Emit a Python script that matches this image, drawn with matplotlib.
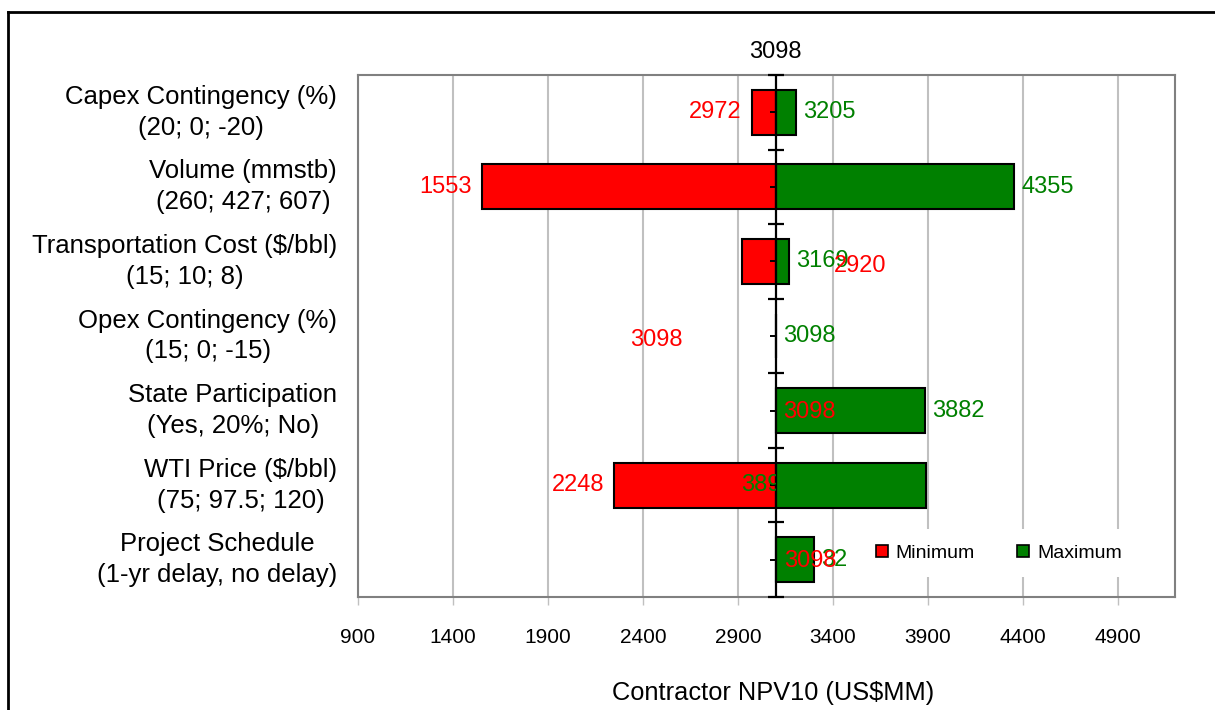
import matplotlib
matplotlib.use("Agg")
import matplotlib.pyplot as plt
from matplotlib.lines import Line2D
from matplotlib.transforms import Bbox

plt.rcParams['font.family'] = ['Liberation Sans', 'DejaVu Sans']

# Sensitivity inputs (top to bottom) and resulting NPV10 values
categories = [
    "Capex Contingency (%)\n(20; 0; -20)",
    "Volume (mmstb)\n(260; 427; 607)",
    "Transportation Cost ($/bbl)\n(15; 10; 8)",
    "Opex Contingency (%)\n(15; 0; -15)",
    "State Participation\n(Yes, 20%; No)",
    "WTI Price ($/bbl)\n(75; 97.5; 120)",
    "Project Schedule\n(1-yr delay, no delay)",
]
base_npv = 3098
min_npv = [2972, 1553, 2920, 3098, 3098, 2248, 3098]
max_npv = [3205, 4355, 3169, 3098, 3882, 3890, 3300]
max_label_text = ["3205", "4355", "3169", "3098", "3882", "3890", "32"]
x_ticks = [900, 1400, 1900, 2400, 2900, 3400, 3900, 4400, 4900]

RED = "#FF0000"
GREEN = "#008000"

W, H = 1215, 710
fig = plt.figure(figsize=(W / 100, H / 100), dpi=100)
ax = fig.add_axes([358 / W, 1 - 597 / H, (1175 - 358) / W, (597 - 75) / H])

n = len(categories)
ys = list(range(n))
bar_h = 0.6

# Bars from the base case outwards
ax.barh(ys, [m - base_npv for m in min_npv], left=base_npv, height=bar_h,
        color=RED, edgecolor="black", linewidth=1.5, zorder=3)
ax.barh(ys, [m - base_npv for m in max_npv], left=base_npv, height=bar_h,
        color=GREEN, edgecolor="black", linewidth=1.5, zorder=3)

ax.set_xlim(900, 5200)
ax.set_ylim(n - 0.5, -0.5)
ax.set_xticks(x_ticks)
ax.set_xticklabels([str(t) for t in x_ticks], fontsize=15)
ax.set_yticks(ys)
ax.set_yticklabels(categories, fontsize=18.5, ha="right", va="center",
                   multialignment="center", linespacing=1.36)
ax.tick_params(axis="y", length=0, pad=15)
ax.tick_params(axis="x", length=6, width=1, color="#c0c0c0", pad=16)
ax.grid(axis="x", color="#c0c0c0", linewidth=1.5, zorder=0)
for s in ax.spines.values():
    s.set_color("#808080")
    s.set_linewidth(1.5)

# Central category axis through the base case
ax.axvline(base_npv, color="black", linewidth=1.6, zorder=5)
bounds = [i - 0.5 for i in range(n + 1)]
ax.plot([base_npv] * len(bounds), bounds, linestyle="none", marker="_",
        markersize=12, markeredgewidth=1.6, color="black", zorder=5, clip_on=False)
ax.plot([base_npv] * n, ys, linestyle="none", marker=0,
        markersize=4, markeredgewidth=1.4, color="black", zorder=5)

ax.annotate(str(base_npv), xy=(base_npv, 1.0), xycoords=("data", "axes fraction"),
            xytext=(0, 23), textcoords="offset pixels", ha="center", va="center",
            fontsize=17, color="black")

# Data labels
lab_kw = dict(textcoords="offset pixels", fontsize=17, va="center", zorder=6,
              annotation_clip=False)
special_min = {
    2: dict(x=3402, ha="left", dy=-5),
    3: dict(x=2608, ha="right", dy=-4),
    4: dict(x=base_npv, ha="left", dx=7, dy=-1),
    6: dict(x=base_npv, ha="left", dx=8, dy=-1),
}
special_max = {
    5: dict(x=2918, ha="left", dy=0, clip_right=base_npv),
}

# Max labels first so the min labels sit on top where they overlap
for i, (v, txt) in enumerate(zip(max_npv, max_label_text)):
    sp = special_max.get(i)
    if sp is None:
        ax.annotate(txt, xy=(v, i), xytext=(7, 0), ha="left", color=GREEN, **lab_kw)
    else:
        t = ax.annotate(txt, xy=(sp["x"], i), xytext=(sp.get("dx", 0), sp["dy"]),
                        ha=sp["ha"], color=GREEN, **lab_kw)
        if "clip_right" in sp:
            fig.canvas.draw()
            x1 = ax.transData.transform((sp["clip_right"], 0))[0]
            t.set_clip_box(Bbox([[0, 0], [x1, H]]))
            t.set_clip_on(True)

for i, v in enumerate(min_npv):
    sp = special_min.get(i)
    if sp is None:
        ax.annotate(str(v), xy=(v, i), xytext=(-10, 0), ha="right", color=RED, **lab_kw)
    else:
        ax.annotate(str(v), xy=(sp["x"], i), xytext=(sp.get("dx", 0), sp["dy"]),
                    ha=sp["ha"], color=RED, **lab_kw)

# Legend
handles = [
    Line2D([], [], linestyle="none", marker="s", markersize=8, markerfacecolor=RED,
           markeredgecolor="black", markeredgewidth=1.2, label="Minimum"),
    Line2D([], [], linestyle="none", marker="s", markersize=8, markerfacecolor=GREEN,
           markeredgecolor="black", markeredgewidth=1.2, label="Maximum"),
]
leg = ax.legend(handles=handles, loc="center", bbox_to_anchor=(998 / W, 1 - 553 / H),
                bbox_transform=fig.transFigure, ncol=2, frameon=True, fontsize=14,
                handlelength=0.8, handletextpad=0.3, columnspacing=2.1,
                borderpad=0.8, fancybox=False)
leg.get_frame().set_facecolor("white")
leg.get_frame().set_edgecolor("none")
leg.get_frame().set_alpha(1)
leg.set_zorder(4)

fig.text(773 / W, 1 - 693 / H, "Contractor NPV10 (US$MM)", ha="center", va="center",
         fontsize=18.3)

# Outer chart border (top and left edges)
fig.add_artist(Line2D([8 / W, 1], [1 - 12 / H, 1 - 12 / H], color="black", linewidth=2,
                      transform=fig.transFigure))
fig.add_artist(Line2D([8 / W, 8 / W], [0, 1 - 12 / H], color="black", linewidth=2,
                      transform=fig.transFigure))

fig.savefig("out.png", dpi=100)
